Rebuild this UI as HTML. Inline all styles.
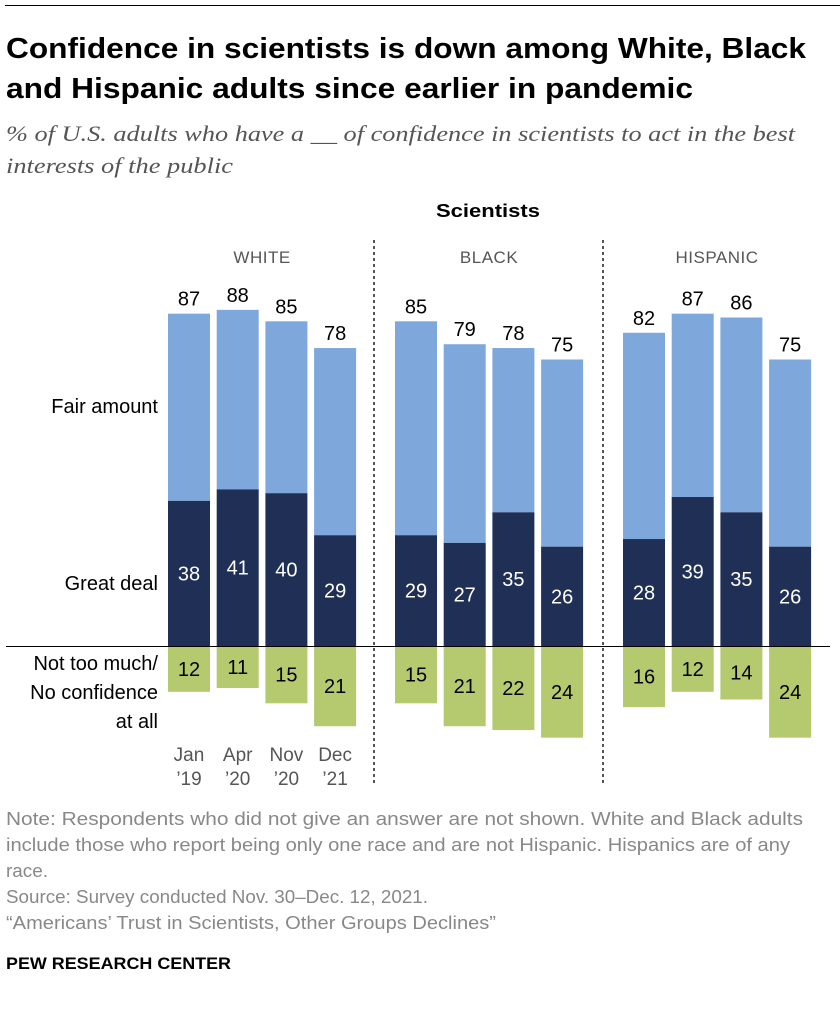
<!DOCTYPE html>
<html><head><meta charset="utf-8"><style>
body{margin:0;background:#fff;width:840px;height:1010px;overflow:hidden;font-family:"Liberation Sans",sans-serif}
</style></head><body>
<svg id="c" width="840" height="1010" xmlns="http://www.w3.org/2000/svg">
<line x1="5" y1="5.5" x2="840" y2="5.5" stroke="#000" stroke-width="1"/>
<text x="6" y="58" font-size="29" font-weight="bold" fill="#000" textLength="800" lengthAdjust="spacingAndGlyphs">Confidence in scientists is down among White, Black</text>
<text x="6" y="98" font-size="29" font-weight="bold" fill="#000" textLength="687" lengthAdjust="spacingAndGlyphs">and Hispanic adults since earlier in pandemic</text>
<text x="6" y="141" font-size="22" font-style="italic" fill="#555" font-family="Liberation Serif,serif" textLength="789" lengthAdjust="spacingAndGlyphs">% of U.S. adults who have a __ of confidence in scientists to act in the best</text>
<text x="6" y="173" font-size="22" font-style="italic" fill="#555" font-family="Liberation Serif,serif" textLength="227" lengthAdjust="spacingAndGlyphs">interests of the public</text>
<text x="488" y="217" font-size="18" font-weight="bold" text-anchor="middle" textLength="104" lengthAdjust="spacingAndGlyphs">Scientists</text>
<text x="158" y="413" font-size="20" text-anchor="end">Fair amount</text>
<text x="158" y="590" font-size="20" text-anchor="end">Great deal</text>
<text x="158" y="670" font-size="20" text-anchor="end">Not too much/</text>
<text x="158" y="699" font-size="20" text-anchor="end">No confidence</text>
<text x="158" y="728" font-size="20" text-anchor="end">at all</text>
<line x1="374" y1="240" x2="374" y2="786" stroke="#555" stroke-width="2" stroke-dasharray="3,3"/>
<line x1="603" y1="240" x2="603" y2="786" stroke="#555" stroke-width="2" stroke-dasharray="3,3"/>
<g id="bars"></g>
<line x1="6" y1="646.5" x2="830" y2="646.5" stroke="#000" stroke-width="1"/>
<text x="6" y="825" font-size="18" fill="#888" textLength="797" lengthAdjust="spacingAndGlyphs">Note: Respondents who did not give an answer are not shown. White and Black adults</text>
<text x="6" y="851" font-size="18" fill="#888" textLength="784" lengthAdjust="spacingAndGlyphs">include those who report being only one race and are not Hispanic. Hispanics are of any</text>
<text x="6" y="877" font-size="18" fill="#888" textLength="42" lengthAdjust="spacingAndGlyphs">race.</text>
<text x="6" y="903" font-size="18" fill="#888" textLength="422" lengthAdjust="spacingAndGlyphs">Source: Survey conducted Nov. 30–Dec. 12, 2021.</text>
<text x="6" y="929" font-size="18" fill="#888" textLength="490" lengthAdjust="spacingAndGlyphs">“Americans’ Trust in Scientists, Other Groups Declines”</text>
<text x="6" y="969" font-size="17" font-weight="bold" fill="#000" textLength="225" lengthAdjust="spacingAndGlyphs">PEW RESEARCH CENTER</text>
</svg>
<script>
const groups=["WHITE","BLACK","HISPANIC"];
const periods=[["Jan","’19"],["Apr","’20"],["Nov","’20"],["Dec","’21"]];
const total=[[87,88,85,78],[85,79,78,75],[82,87,86,75]];
const great=[[38,41,40,29],[29,27,35,26],[28,39,35,26]];
const low=[[12,11,15,21],[15,21,22,24],[16,12,14,24]];
const NS="http://www.w3.org/2000/svg";
const base=646, k=3.82, bw=42, step=48.7;
const gx=[168,395,623];
const y=v=>base-v*k;
const g=document.getElementById('bars');
function mk(tag,a,txt){const e=document.createElementNS(NS,tag);for(const n in a)e.setAttribute(n,a[n]);if(txt!==undefined)e.textContent=txt;g.appendChild(e);return e;}
groups.forEach((gn,gi)=>{
  const h=mk('text',{x:gx[gi]+(3*step+bw)/2,y:263,'font-size':17,fill:'#555','text-anchor':'middle','letter-spacing':'0.5'},gn);
  
  
  for(let i=0;i<4;i++){
    const x=gx[gi]+i*step, cx=x+bw/2;
    const t=total[gi][i], gr=great[gi][i], lo=low[gi][i];
    const r1=mk('rect',{x:x,y:y(t),width:bw,height:(t-gr)*k,fill:'#7ea8dc'});
    
    
    const r2=mk('rect',{x:x,y:y(gr),width:bw,height:gr*k,fill:'#1f2f55'});
    
    
    const r3=mk('rect',{x:x,y:base,width:bw,height:lo*k,fill:'#b5c96f'});
    
    
    const t1=mk('text',{x:cx,y:y(t)-8,'font-size':20,'text-anchor':'middle'},t);
    
    
    const t2=mk('text',{x:cx,y:y(gr/2)+7,'font-size':20,fill:'#fff','text-anchor':'middle'},gr);
    
    
    const t3=mk('text',{x:cx,y:base+lo*k/2+7,'font-size':20,'text-anchor':'middle'},lo);
    
    
    if(gi===0){
      const p1=mk('text',{x:cx,y:761,'font-size':19,fill:'#555','text-anchor':'middle'},periods[i][0]);
      
      
      const p2=mk('text',{x:cx,y:785,'font-size':19,fill:'#555','text-anchor':'middle'},periods[i][1]);
      
      
    }
  }
});
</script>
</body></html>
